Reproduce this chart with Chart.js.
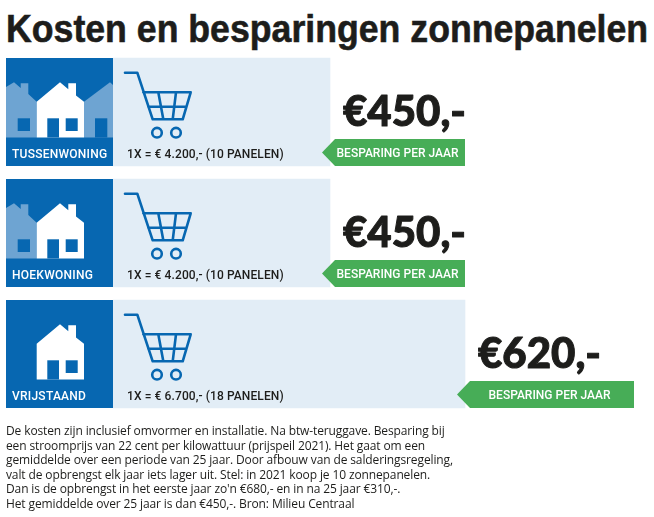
<!DOCTYPE html>
<html lang="nl">
<head>
<meta charset="utf-8">
<title>Kosten en besparingen zonnepanelen</title>
<script src="https://cdn.jsdelivr.net/npm/chart.js@4"></script>
<style>
  html, body { margin: 0; padding: 0; background: #fff; }
  #wrap { position: relative; width: 654px; height: 517px; overflow: hidden; }
  canvas { position: absolute; left: 0; top: 0; }
  h1 {
    position: absolute; left: 6px; top: 6px; margin: 0;
    font: bold 39px "Liberation Sans", sans-serif;
    -webkit-text-stroke: 0.6px #1d1d1b;
    color: #1d1d1b; white-space: nowrap; line-height: 46px;
    transform-origin: left top;
  }
  #note {
    position: absolute; left: 6px; top: 424px; margin: 0;
    font: 12px/14.6px "Open Sans", sans-serif;
    letter-spacing: -0.12px;
    color: #1d1d1b; white-space: nowrap;
  }
</style>
</head>
<body>
<div id="wrap">
  <h1 id="titel">Kosten en besparingen zonnepanelen</h1>
  <canvas id="grafiek" width="654" height="517"></canvas>
  <p id="note">De kosten zijn inclusief omvormer en installatie. Na btw-teruggave. Besparing bij<br>
een stroomprijs van 22 cent per kilowattuur (prijspeil 2021). Het gaat om een<br>
gemiddelde over een periode van 25 jaar. Door afbouw van de salderingsregeling,<br>
valt de opbrengst elk jaar iets lager uit. Stel: in 2021 koop je 10 zonnepanelen.<br>
Dan is de opbrengst in het eerste jaar zo'n €680,- en in na 25 jaar €310,-.<br>
Het gemiddelde over 25 jaar is dan €450,-. Bron: Milieu Centraal</p>
</div>
<script>
// data
const woningen = ['TUSSENWONING', 'HOEKWONING', 'VRIJSTAAND'];
const kosten = [4200, 4200, 6700];
const panelen = [10, 10, 18];
const besparing = [450, 450, 620];

// kleuren
const blauw = '#0767b1';
const lichtblauw = '#e2edf6';
const middenblauw = '#6ea4d2';
const groen = '#47ad57';
const zwart = '#1d1d1b';

// breedte van het groene label per rij
const labelBreedte = [143, 143, 177];

// de as is verborgen en begint net boven 0, zo komen de balkeinden uit als in het origineel
const asMin = 181.5;
const asMax = 8000;

// titel is smal gezet in het origineel, geen smal font beschikbaar dus samendrukken
const titel = document.getElementById('titel');
titel.style.transform = 'scaleX(' + (642 / titel.offsetWidth) + ')';

function euro(n) {
  return n.toString().replace(/(\d)(\d{3})$/, '$1.$2') + ',-';
}

function huis(ctx, x, y) {
  ctx.fillStyle = '#fff';
  ctx.beginPath();
  ctx.moveTo(x + 30.7, y + 43.7);
  ctx.lineTo(x + 54, y + 24.3);
  ctx.lineTo(x + 62.3, y + 31.2);
  ctx.lineTo(x + 62.3, y + 25.3);
  ctx.lineTo(x + 70, y + 25.3);
  ctx.lineTo(x + 70, y + 37.6);
  ctx.lineTo(x + 78, y + 43.7);
  ctx.lineTo(x + 78, y + 79.5);
  ctx.lineTo(x + 30.7, y + 79.5);
  ctx.closePath();
  ctx.fill();
  ctx.fillStyle = blauw;
  ctx.fillRect(x + 41.3, y + 60.3, 11.7, 19.2);
  ctx.fillRect(x + 59.7, y + 60.3, 12, 12.7);
}

function buurLinks(ctx, x, y) {
  ctx.fillStyle = middenblauw;
  ctx.beginPath();
  ctx.moveTo(x, y + 29);
  ctx.lineTo(x + 8, y + 24.3);
  ctx.lineTo(x + 14.7, y + 30);
  ctx.lineTo(x + 14.7, y + 25.3);
  ctx.lineTo(x + 22.3, y + 25.3);
  ctx.lineTo(x + 22.3, y + 36);
  ctx.lineTo(x + 30.7, y + 43.7);
  ctx.lineTo(x + 30.7, y + 79.5);
  ctx.lineTo(x, y + 79.5);
  ctx.closePath();
  ctx.fill();
  ctx.fillStyle = blauw;
  ctx.fillRect(x + 11.7, y + 60.3, 12.3, 12.7);
}

function buurRechts(ctx, x, y) {
  ctx.fillStyle = middenblauw;
  ctx.beginPath();
  ctx.moveTo(x + 78, y + 43.7);
  ctx.lineTo(x + 104, y + 24.3);
  ctx.lineTo(x + 107, y + 27);
  ctx.lineTo(x + 107, y + 79.5);
  ctx.lineTo(x + 78, y + 79.5);
  ctx.closePath();
  ctx.fill();
  ctx.fillStyle = blauw;
  ctx.fillRect(x + 89, y + 60.3, 12.3, 19.2);
}

function winkelwagen(ctx, y) {
  ctx.strokeStyle = blauw;
  ctx.lineWidth = 2.6;
  ctx.lineCap = 'round';
  ctx.lineJoin = 'round';
  ctx.beginPath();
  ctx.moveTo(125, y + 14.7);
  ctx.lineTo(137.3, y + 14.7);
  ctx.lineTo(152.7, y + 61.3);
  ctx.lineTo(182.7, y + 61.3);
  ctx.lineTo(190.7, y + 34.3);
  ctx.lineTo(143.3, y + 34.3);
  ctx.moveTo(148.3, y + 48.7);
  ctx.lineTo(186.5, y + 48.7);
  ctx.moveTo(158.3, y + 34.3);
  ctx.lineTo(163.3, y + 61.3);
  ctx.moveTo(176, y + 34.3);
  ctx.lineTo(172.7, y + 61.3);
  ctx.stroke();
  ctx.beginPath();
  ctx.arc(157, y + 74.7, 4.8, 0, Math.PI * 2);
  ctx.moveTo(180.8, y + 74.7);
  ctx.arc(176, y + 74.7, 4.8, 0, Math.PI * 2);
  ctx.stroke();
}

// alles rond de balken: blauwe blokken, huizen, wagens, teksten en groene labels
const tegels = {
  id: 'tegels',
  afterDatasetsDraw(chart) {
    const ctx = chart.ctx;
    const meta = chart.getDatasetMeta(0);
    ctx.save();
    woningen.forEach((naam, i) => {
      const bar = meta.data[i];
      const top = bar.y - 54;
      const basis = chart.scales.x.left;
      const eind = bar.x;

      ctx.fillStyle = blauw;
      ctx.fillRect(basis - 107, top, 107, 108);
      if (i < 2) buurLinks(ctx, basis - 107, top);
      if (i < 1) buurRechts(ctx, basis - 107, top);
      huis(ctx, basis - 107, top);
      winkelwagen(ctx, top);

      ctx.textBaseline = 'alphabetic';
      ctx.textAlign = 'left';
      ctx.fillStyle = '#fff';
      ctx.font = '500 12px Roboto, sans-serif';
      ctx.letterSpacing = '0.25px';
      ctx.fillText(naam, basis - 101, top + 100);

      ctx.fillStyle = zwart;
      ctx.font = '500 12px Roboto, sans-serif';
      ctx.letterSpacing = '0.1px';
      ctx.fillText('1X = € ' + euro(kosten[i]) + ' (' + panelen[i] + ' PANELEN)', 127, top + 100);

      // bedrag
      const bedrag = '€' + besparing[i] + ',-';
      ctx.letterSpacing = '0px';
      ctx.font = '900 42px Lato, sans-serif';
      ctx.strokeStyle = zwart;
      ctx.lineWidth = 1;
      ctx.lineJoin = 'round';
      ctx.fillText(bedrag, eind + 13, top + 68);
      ctx.strokeText(bedrag, eind + 13, top + 68);

      // groen label met punt naar de balk
      const b = labelBreedte[i];
      ctx.fillStyle = groen;
      ctx.beginPath();
      ctx.moveTo(eind - 8, top + 94.5);
      ctx.lineTo(eind + 5, top + 81);
      ctx.lineTo(eind - 8 + b, top + 81);
      ctx.lineTo(eind - 8 + b, top + 108);
      ctx.lineTo(eind + 5, top + 108);
      ctx.closePath();
      ctx.fill();
      ctx.fillStyle = '#fff';
      ctx.textAlign = 'center';
      ctx.font = '500 12px Roboto, sans-serif';
      ctx.fillText('BESPARING PER JAAR', eind - 8 + b / 2 + 4, top + 99);
    });
    ctx.restore();
  }
};

new Chart(document.getElementById('grafiek'), {
  type: 'bar',
  data: {
    labels: woningen,
    datasets: [{
      label: 'Kosten',
      data: kosten,
      backgroundColor: lichtblauw,
      borderWidth: 0,
      barThickness: 108
    }]
  },
  options: {
    indexAxis: 'y',
    responsive: false,
    animation: false,
    events: [],
    layout: { padding: { left: 113, right: 118.8, top: 51.5, bottom: 102.5 } },
    scales: {
      x: { display: false, min: asMin, max: asMax },
      y: { display: false }
    },
    plugins: {
      legend: { display: false },
      tooltip: { enabled: false }
    }
  },
  plugins: [tegels]
});
</script>
</body>
</html>
